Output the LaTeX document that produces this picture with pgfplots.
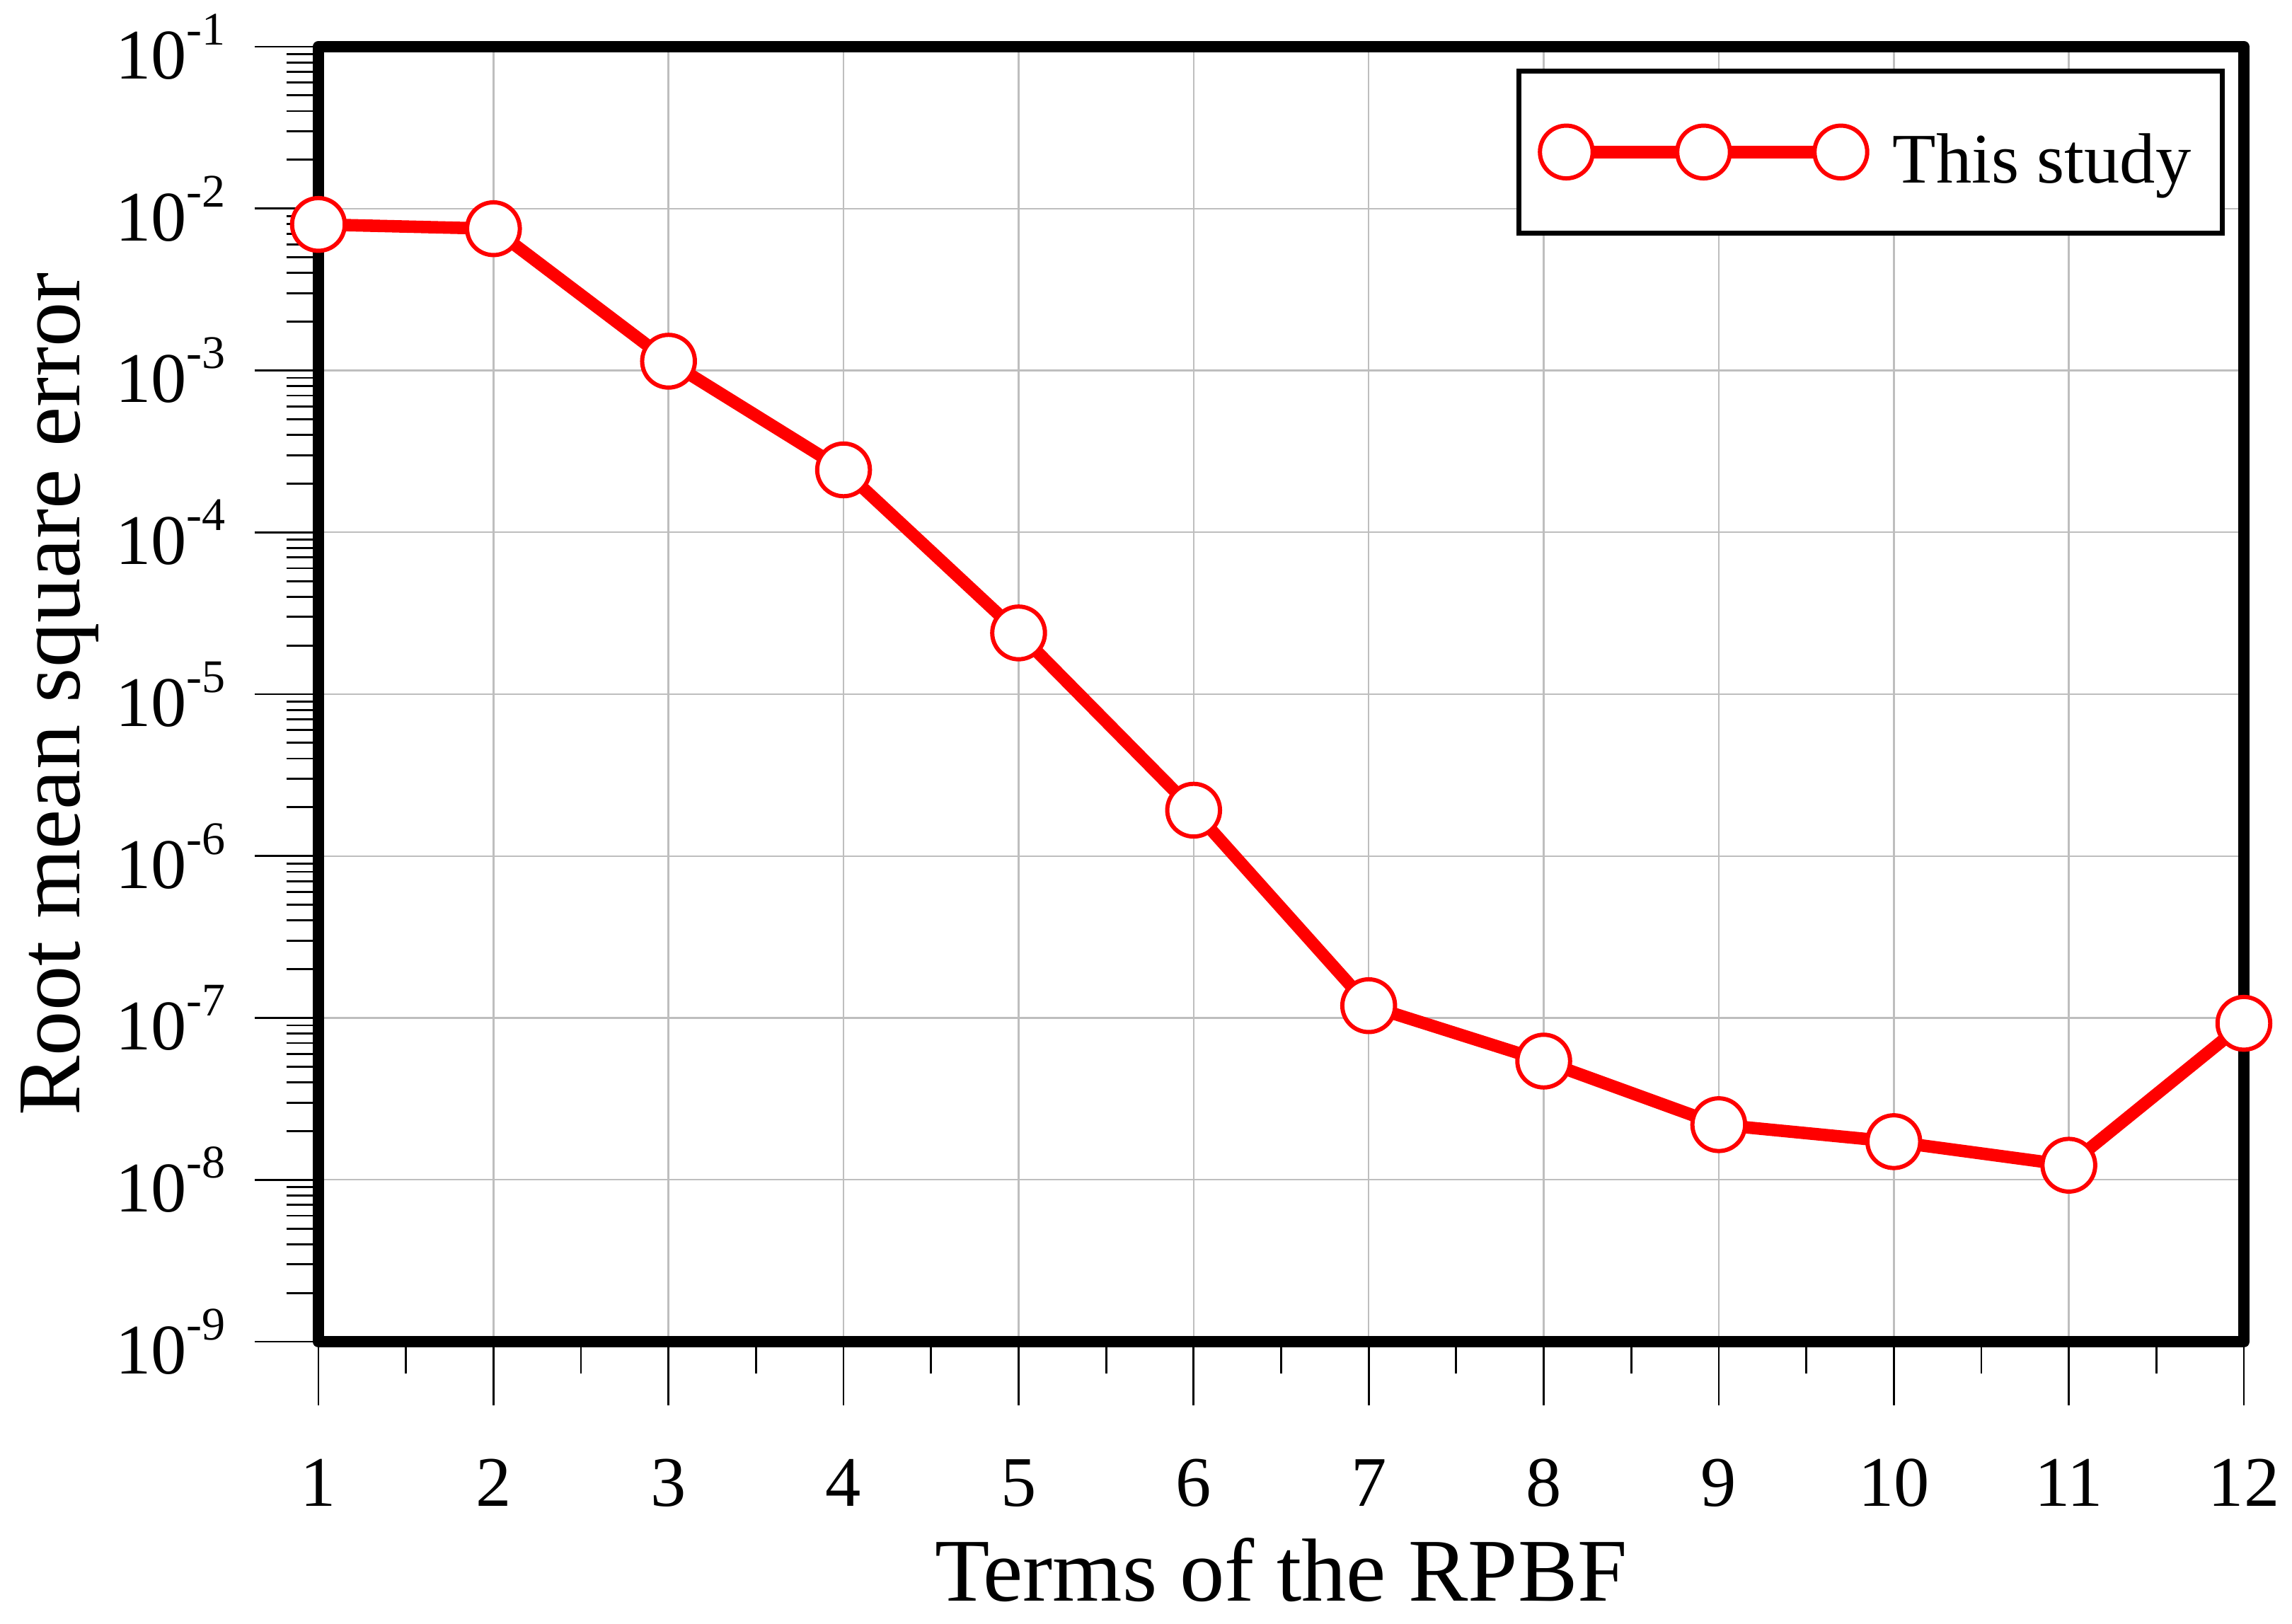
\documentclass[border=0pt]{standalone}
\usepackage{fontspec}
\setmainfont{Liberation Serif}
\usepackage{pgfplots}
\pgfplotsset{compat=1.18}
\definecolor{gridgray}{RGB}{190,190,190}
\newcommand{\tp}[1]{10\raisebox{6.8pt}{\fontsize{9.4}{10}\selectfont -#1}}
\begin{document}
\begin{tikzpicture}
\begin{axis}[
  scale only axis=true,
  width=13.605cm, height=9.15cm,
  ymode=log,
  xmin=1, xmax=12,
  ymin=1e-9, ymax=1e-1,
  xtick={1,2,3,4,5,6,7,8,9,10,11,12},
  minor x tick num=1,
  ytick={1e-9,1e-8,1e-7,1e-6,1e-5,1e-4,1e-3,1e-2,1e-1},
  yticklabels={\tp{9},\tp{8},\tp{7},\tp{6},\tp{5},\tp{4},\tp{3},\tp{2},\tp{1}},
  minor ytick={2e-9,3e-9,4e-9,5e-9,6e-9,7e-9,8e-9,9e-9,
               2e-8,3e-8,4e-8,5e-8,6e-8,7e-8,8e-8,9e-8,
               2e-7,3e-7,4e-7,5e-7,6e-7,7e-7,8e-7,9e-7,
               2e-6,3e-6,4e-6,5e-6,6e-6,7e-6,8e-6,9e-6,
               2e-5,3e-5,4e-5,5e-5,6e-5,7e-5,8e-5,9e-5,
               2e-4,3e-4,4e-4,5e-4,6e-4,7e-4,8e-4,9e-4,
               2e-3,3e-3,4e-3,5e-3,6e-3,7e-3,8e-3,9e-3,
               2e-2,3e-2,4e-2,5e-2,6e-2,7e-2,8e-2,9e-2},
  xticklabels={1,2,3,4,5,6,7,8,9,10,11,12},
  tick pos=left,
  tick align=outside,
  major tick length=0.45cm,
  minor tick length=0.225cm,
  every tick/.style={black, line width=0.4pt},
  xmajorgrids=true, ymajorgrids=true,
  major grid style={gridgray, line width=0.35pt},
  axis line style={line width=2.3pt, line join=round, line cap=round},
  tick label style={font=\fontsize{14.3}{16}\selectfont},
  xticklabel style={anchor=base, inner sep=0pt, yshift=-0.715cm},
  yticklabel style={anchor=east, inner sep=0pt, xshift=-0.2cm},
  every axis x label/.style={at={(axis description cs:0.5,0)}, anchor=base, yshift=-1.83cm, font=\fontsize{18}{20}\selectfont},
  every axis y label/.style={at={(axis description cs:-0.12385,0.5)}, rotate=90, anchor=base, font=\fontsize{18}{20}\selectfont},
  xlabel={Terms of the RPBF},
  ylabel={Root mean square error},
  legend style={at={(axis description cs:1,1)}, anchor=north east, xshift=-0.135cm, yshift=-0.155cm,
    draw=black, line width=1pt, inner xsep=0.15cm, inner ysep=0.23cm, column sep=0.11cm,
    font=\fontsize{14.3}{16}\selectfont},
  legend cell align=left,
  legend image code/.code={
    \draw[mark repeat=1,mark phase=1,#1] plot coordinates {(0cm,0cm) (0.97cm,0cm) (1.94cm,0cm)};
  },
]
\addplot[red, line width=2.5pt, mark=*, mark size=5.3pt,
  mark options={fill=white, draw=red, line width=0.85pt, solid}]
coordinates {
 (1,7.98e-3) (2,7.51e-3) (3,1.14e-3) (4,2.43e-4) (5,2.39e-5) (6,1.92e-6)
 (7,1.19e-7) (8,5.41e-8) (9,2.19e-8) (10,1.72e-8) (11,1.23e-8) (12,9.26e-8)
};
\addlegendentry{\rule{0pt}{0.49cm}This study}
\coordinate (SW) at (rel axis cs:0,0);
\coordinate (NE) at (rel axis cs:1,1);
\end{axis}
\pgfresetboundingbox
\path ([shift={(-2.25cm,-1.995cm)}]SW) rectangle ([shift={(0.34cm,0.33cm)}]NE);
\end{tikzpicture}
\end{document}
